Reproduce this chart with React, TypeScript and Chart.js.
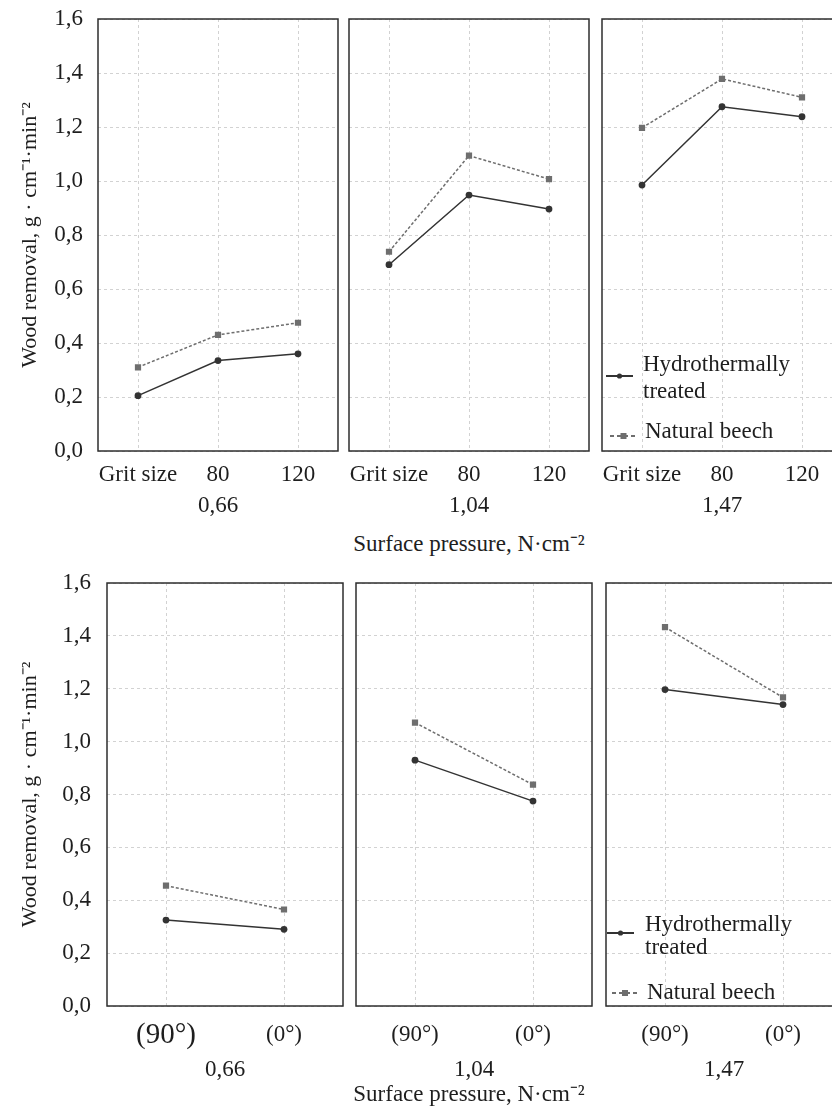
import React, { useEffect, useRef } from "react";
import { Chart, registerables } from "chart.js";

Chart.register(...registerables);

// ---------- data ----------
const gritLabels = ["Grit size", "80", "120"];
const angleLabels = ["(90°)", "(0°)"];
const pressureLabels = ["0,66", "1,04", "1,47"];
const seriesNames = ["Hydrothermally treated", "Natural beech"];
const yAxisTitle = "Wood removal, g · cm⁻¹·min⁻²";
const xAxisTitle = "Surface pressure, N·cm⁻²";
const yTicks = { min: 0, max: 1.6, step: 0.2 };

// Top figure: wood removal vs grit size, per surface pressure
const gritHydro066 = [0.205, 0.335, 0.36];
const gritNatural066 = [0.31, 0.43, 0.475];
const gritHydro104 = [0.69, 0.948, 0.896];
const gritNatural104 = [0.738, 1.094, 1.007];
const gritHydro147 = [0.985, 1.275, 1.238];
const gritNatural147 = [1.197, 1.378, 1.31];

// Bottom figure: wood removal vs grain direction, per surface pressure
const angleHydro066 = [0.325, 0.29];
const angleNatural066 = [0.455, 0.365];
const angleHydro104 = [0.93, 0.775];
const angleNatural104 = [1.072, 0.837];
const angleHydro147 = [1.197, 1.14];
const angleNatural147 = [1.433, 1.167];

// ---------- styles ----------
const FONT = '"Liberation Serif", "Times New Roman", Times, serif';
const FS = 23;
const TEXT = "#1e1e1e";
const HYDRO = "#333333";
const NATURAL = "#6e6e6e";
const GRID = "#d2d2d2";
const FRAME = "#2e2e2e";

type Frame = { left: number; top: number; width: number; height: number };
type LegendEntry = { sampleY: number; x0: number; x1: number; textX: number; textY: number };
type LegendLayout = { entries: LegendEntry[]; lineGap: number; maxWidth: number };

type PanelProps = {
  frame: Frame;
  labels: string[];
  hydro: number[];
  natural: number[];
  title: string;
  showY: boolean;
  padT: number;
  padB: number;
  tickPad: number;
  yTickPad: number;
  titlePadBottom: number;
  bigFirstTick?: boolean;
  legend?: LegendLayout;
};

const framePlugin = {
  id: "panelFrame",
  afterDraw(chart: any) {
    const { ctx, chartArea: a } = chart;
    ctx.save();
    ctx.strokeStyle = FRAME;
    ctx.lineWidth = 1.5;
    ctx.setLineDash([]);
    ctx.strokeRect(a.left, a.top, a.right - a.left, a.bottom - a.top);
    ctx.restore();
  },
};

function wrapText(ctx: CanvasRenderingContext2D, text: string, maxWidth: number): string[] {
  const words = text.split(" ");
  const lines: string[] = [];
  let cur = "";
  for (const w of words) {
    const test = cur ? cur + " " + w : w;
    if (cur && ctx.measureText(test).width > maxWidth) {
      lines.push(cur);
      cur = w;
    } else {
      cur = test;
    }
  }
  if (cur) lines.push(cur);
  return lines;
}

function makeLegendPlugin(layout: LegendLayout) {
  return {
    id: "panelLegend",
    afterDraw(chart: any) {
      const { ctx, chartArea: a } = chart;
      ctx.save();
      ctx.font = `${FS}px ${FONT}`;
      ctx.textBaseline = "middle";
      ctx.textAlign = "left";
      chart.data.datasets.forEach((ds: any, i: number) => {
        const e = layout.entries[i];
        if (!e) return;
        const y = a.bottom - e.sampleY;
        const x0 = a.left + e.x0;
        const x1 = a.left + e.x1;
        ctx.strokeStyle = ds.borderColor;
        ctx.lineWidth = 2;
        ctx.setLineDash(ds.borderDash ? [4, 3] : []);
        ctx.beginPath();
        ctx.moveTo(x0, y);
        ctx.lineTo(x1, y);
        ctx.stroke();
        ctx.setLineDash([]);
        const mx = (x0 + x1) / 2;
        ctx.fillStyle = ds.backgroundColor;
        if (ds.pointStyle === "rect") {
          ctx.fillRect(mx - 3, y - 3, 6, 6);
        } else {
          ctx.beginPath();
          ctx.arc(mx, y, 2.6, 0, Math.PI * 2);
          ctx.fill();
        }
        ctx.fillStyle = TEXT;
        const lines = wrapText(ctx, ds.label, layout.maxWidth);
        lines.forEach((ln, k) => {
          ctx.fillText(ln, a.left + e.textX, a.bottom - e.textY + k * layout.lineGap);
        });
      });
      ctx.restore();
    },
  };
}

function Panel(p: PanelProps) {
  const ref = useRef<HTMLCanvasElement>(null);
  const padL = p.showY ? p.frame.left : 6;
  const padR = 6;
  const W = padL + p.frame.width + padR;
  const H = p.padT + p.frame.height + p.padB;
  const left = p.frame.left - padL;
  const top = p.frame.top - p.padT;

  useEffect(() => {
    const canvas = ref.current;
    if (!canvas) return;
    const plugins: any[] = [framePlugin];
    if (p.legend) plugins.push(makeLegendPlugin(p.legend));
    const chart = new Chart(canvas, {
      type: "line",
      data: {
        labels: p.labels,
        datasets: [
          {
            label: seriesNames[0],
            data: p.hydro,
            borderColor: HYDRO,
            backgroundColor: HYDRO,
            borderWidth: 1.5,
            pointStyle: "circle",
            pointRadius: 3.4,
            pointBorderWidth: 0,
            tension: 0,
          },
          {
            label: seriesNames[1],
            data: p.natural,
            borderColor: NATURAL,
            backgroundColor: NATURAL,
            borderWidth: 1.5,
            borderDash: [3, 2],
            pointStyle: "rect",
            pointRadius: 4.4,
            pointBorderWidth: 0,
            tension: 0,
          },
        ],
      },
      options: {
        responsive: false,
        animation: false,
        devicePixelRatio: 1,
        layout: { padding: { top: p.padT, right: padR, left: 0, bottom: 0 } },
        plugins: { legend: { display: false }, tooltip: { enabled: false } },
        scales: {
          x: {
            type: "category",
            offset: true,
            grid: { color: GRID, lineWidth: 1, offset: false, drawTicks: false },
            border: { display: false, dash: [3, 3] },
            ticks: {
              color: TEXT,
              padding: p.tickPad,
              maxRotation: 0,
              autoSkip: false,
              font: (ctx: any) =>
                p.bigFirstTick && ctx.index === 0
                  ? { family: FONT, size: 29, lineHeight: 1.0 }
                  : { family: FONT, size: FS },
            },
            title: {
              display: true,
              text: p.title,
              color: TEXT,
              font: { family: FONT, size: FS },
              padding: { top: 0, bottom: p.titlePadBottom },
            },
            afterFit: (s: any) => {
              s.height = p.padB;
              s.paddingLeft = 0;
              s.paddingRight = 0;
            },
          },
          y: {
            type: "linear",
            min: yTicks.min,
            max: yTicks.max,
            grid: { color: GRID, lineWidth: 1, drawTicks: false },
            border: { display: false, dash: [3, 3] },
            ticks: {
              display: p.showY,
              stepSize: yTicks.step,
              color: TEXT,
              padding: p.yTickPad,
              font: { family: FONT, size: FS },
              callback: (v: any) => Number(v).toFixed(1).replace(".", ","),
            },
            title: {
              display: p.showY,
              text: yAxisTitle,
              color: TEXT,
              font: { family: FONT, size: 22 },
              padding: { top: 17, bottom: 0 },
            },
            afterFit: (s: any) => {
              s.width = padL;
              s.paddingTop = 0;
              s.paddingBottom = 0;
            },
          },
        },
      } as any,
      plugins,
    });
    return () => chart.destroy();
  }, []);

  return (
    <canvas
      ref={ref}
      width={W}
      height={H}
      style={{ position: "absolute", left, top, width: W, height: H }}
    />
  );
}

const topLegend: LegendLayout = {
  lineGap: 27,
  maxWidth: 175,
  entries: [
    { sampleY: 75, x0: 4, x1: 31, textX: 41, textY: 86 },
    { sampleY: 15, x0: 8, x1: 35, textX: 43, textY: 19 },
  ],
};

const bottomLegend: LegendLayout = {
  lineGap: 23,
  maxWidth: 175,
  entries: [
    { sampleY: 73, x0: 1, x1: 28, textX: 39, textY: 81 },
    { sampleY: 13, x0: 6, x1: 32, textX: 41, textY: 13 },
  ],
};

const topFrames: Frame[] = [
  { left: 98, top: 19, width: 240, height: 432 },
  { left: 349, top: 19, width: 240, height: 432 },
  { left: 602, top: 19, width: 240, height: 432 },
];
const bottomFrames: Frame[] = [
  { left: 107, top: 583, width: 236, height: 423 },
  { left: 356, top: 583, width: 236, height: 423 },
  { left: 606, top: 583, width: 236, height: 423 },
];

const topHydro = [gritHydro066, gritHydro104, gritHydro147];
const topNatural = [gritNatural066, gritNatural104, gritNatural147];
const bottomHydro = [angleHydro066, angleHydro104, angleHydro147];
const bottomNatural = [angleNatural066, angleNatural104, angleNatural147];

const captionStyle = (centerX: number, centerY: number): React.CSSProperties => ({
  position: "absolute",
  left: centerX - 160,
  top: centerY - 13,
  width: 320,
  lineHeight: "26px",
  fontSize: FS,
  fontFamily: FONT,
  color: TEXT,
  textAlign: "center",
  whiteSpace: "nowrap",
});

export default function App() {
  return (
    <div
      style={{
        position: "absolute",
        left: 0,
        top: 0,
        width: 832,
        height: 1108,
        overflow: "hidden",
        background: "#ffffff",
      }}
    >
      {topFrames.map((f, i) => (
        <Panel
          key={"t" + i}
          frame={f}
          labels={gritLabels}
          hydro={topHydro[i]}
          natural={topNatural[i]}
          title={pressureLabels[i]}
          showY={i === 0}
          padT={19}
          padB={70}
          tickPad={10}
          yTickPad={15}
          titlePadBottom={1}
          legend={i === 2 ? topLegend : undefined}
        />
      ))}
      <div style={captionStyle(469, 544)}>{xAxisTitle}</div>
      {bottomFrames.map((f, i) => (
        <Panel
          key={"b" + i}
          frame={f}
          labels={angleLabels}
          hydro={bottomHydro[i]}
          natural={bottomNatural[i]}
          title={pressureLabels[i]}
          showY={i === 0}
          padT={20}
          padB={80}
          tickPad={15}
          yTickPad={16}
          titlePadBottom={2}
          bigFirstTick={i === 0}
          legend={i === 2 ? bottomLegend : undefined}
        />
      ))}
      <div style={captionStyle(469, 1094)}>{xAxisTitle}</div>
    </div>
  );
}
